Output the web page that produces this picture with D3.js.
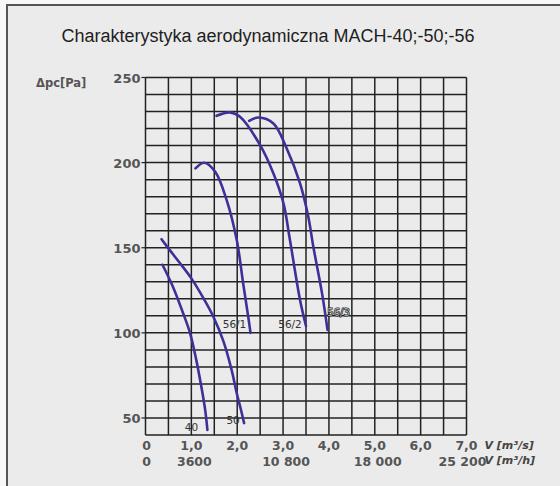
<!DOCTYPE html>
<html>
<head>
<meta charset="utf-8">
<script src="https://cdn.jsdelivr.net/npm/d3@7"></script>
<style>
  html, body { margin: 0; padding: 0; background: #f7f7f7; }
  svg { display: block; }
</style>
</head>
<body>
<svg id="chart" width="560" height="486"></svg>
<script>
// fan curves, flow V [m3/s] against pressure dpc [Pa]
const curveNames = ['40', '50', '56/1', '56/2', '56/3'];
const curve40 = [[0.37, 140], [0.6, 127], [0.8, 113], [0.97, 100], [1.1, 85], [1.22, 68], [1.3, 55], [1.35, 43]];
const curve50 = [[0.35, 155], [0.53, 148.6], [0.75, 141], [1.0, 132], [1.25, 121], [1.48, 109.5], [1.7, 95], [1.88, 78], [1.99, 64.5], [2.08, 55], [2.15, 47]];
const curve56_1 = [[1.09, 196.6], [1.28, 199.9], [1.52, 194.6], [1.77, 178], [1.99, 154.5], [2.13, 129], [2.24, 109.5], [2.29, 100]];
const curve56_2 = [[1.55, 227.5], [1.84, 229.5], [2.06, 226.9], [2.5, 210.3], [2.79, 193.6], [3.01, 176], [3.15, 154.5], [3.37, 119.3], [3.5, 104]];
const curve56_3 = [[2.26, 224.5], [2.46, 226.5], [2.79, 223], [3.08, 208.3], [3.37, 187.8], [3.55, 168.2], [3.66, 150.6], [3.85, 123.2], [3.97, 101.7]];
const curves = [curve40, curve50, curve56_1, curve56_2, curve56_3];

const xTicks = [0, 1, 2, 3, 4, 5, 6, 7];
const xTickLabels = ['0', '1,0', '2,0', '3,0', '4,0', '5,0', '6,0', '7,0'];
const hTicks = [0, 1, 3, 5, 7];
const hTickLabels = ['0', '3600', '10 800', '18 000', '25 200'];
const yTicks = [50, 100, 150, 200, 250];

const svg = d3.select('#chart');
const W = 560, H = 486;
const margin = { top: 77.5, right: 93.5, bottom: 51, left: 145.5 };

// panel
svg.append('rect').attr('x', 6).attr('y', 4).attr('width', W - 6).attr('height', H - 4).attr('fill', '#ebebeb');
svg.append('path').attr('d', `M7,${H} V5 H${W}`).attr('fill', 'none').attr('stroke', '#555').attr('stroke-width', 2);

svg.append('text')
  .attr('x', 268).attr('y', 42)
  .attr('text-anchor', 'middle')
  .attr('font-family', 'Liberation Sans, Arial, sans-serif')
  .attr('font-size', 18)
  .attr('fill', '#1e1e1e')
  .text('Charakterystyka aerodynamiczna MACH-40;-50;-56');

const x = d3.scaleLinear().domain([0, 7]).range([margin.left, W - margin.right]);
const y = d3.scaleLinear().domain([40, 250]).range([H - margin.bottom, margin.top]);

// grid
const g = svg.append('g');
const gridColor = '#222';
g.selectAll('.vg').data(d3.range(0, 7.01, 0.5)).enter().append('line')
  .attr('x1', d => x(d)).attr('x2', d => x(d))
  .attr('y1', y(40)).attr('y2', y(250))
  .attr('stroke', gridColor).attr('stroke-width', 1.5);
g.selectAll('.hg').data(d3.range(40, 250.1, 10)).enter().append('line')
  .attr('x1', x(0)).attr('x2', x(7))
  .attr('y1', d => y(d)).attr('y2', d => y(d))
  .attr('stroke', gridColor).attr('stroke-width', 1.5);
g.selectAll('.yt').data(yTicks).enter().append('line')
  .attr('x1', x(0) - 4).attr('x2', x(0))
  .attr('y1', d => y(d)).attr('y2', d => y(d))
  .attr('stroke', gridColor).attr('stroke-width', 1.2);

// y labels
const labelFont = 'DejaVu Sans, Verdana, sans-serif';
const labelColor = '#555';
svg.selectAll('.yl').data(yTicks).enter().append('text')
  .attr('x', x(0) - 5).attr('y', d => y(d) + 5)
  .attr('text-anchor', 'end')
  .attr('font-family', labelFont).attr('font-weight', 'bold').attr('font-size', 13)
  .attr('fill', labelColor)
  .text(d => d);
svg.append('text')
  .attr('x', 36).attr('y', 87)
  .attr('font-family', labelFont).attr('font-weight', 'bold').attr('font-size', 11.5)
  .attr('fill', labelColor)
  .text('Δpc[Pa]');

// x labels
svg.selectAll('.xl').data(xTicks).enter().append('text')
  .attr('x', (d, i) => x(d) + (i === 0 ? 1 : 0)).attr('y', 449.5)
  .attr('text-anchor', 'middle')
  .attr('font-family', labelFont).attr('font-weight', 'bold').attr('font-size', 12.5)
  .attr('fill', labelColor)
  .text((d, i) => xTickLabels[i]);
svg.selectAll('.hl').data(hTicks).enter().append('text')
  .attr('x', (d, i) => x(d) + (i === 0 ? 1 : i === hTicks.length - 1 ? -4 : 3)).attr('y', 466)
  .attr('text-anchor', 'middle')
  .attr('font-family', labelFont).attr('font-weight', 'bold').attr('font-size', 12.5)
  .attr('fill', labelColor)
  .text((d, i) => hTickLabels[i]);

const unit = (ty, txt) => svg.append('text')
  .attr('x', x(7) + 18).attr('y', ty)
  .attr('font-family', labelFont).attr('font-style', 'italic').attr('font-weight', 'bold').attr('font-size', 11)
  .attr('fill', '#444')
  .text(txt);
unit(449, 'V [m³/s]');
unit(464, 'V [m³/h]');

// curves
const line = d3.line().x(d => x(d[0])).y(d => y(d[1])).curve(d3.curveCatmullRom.alpha(0.5));
svg.selectAll('.curve').data(curves).enter().append('path')
  .attr('d', line)
  .attr('fill', 'none')
  .attr('stroke', '#3d3198')
  .attr('stroke-width', 2.6)
  .attr('stroke-linecap', 'round');

// curve labels, placed relative to each curve's last point
const labelOffsets = [[-16, -3], [-11, -3], [-16, -9], [-16, -2], [11, -18]];
svg.selectAll('.cl').data(curves).enter().append('text')
  .attr('x', (d, i) => x(d[d.length - 1][0]) + labelOffsets[i][0])
  .attr('y', (d, i) => y(d[d.length - 1][1]) + labelOffsets[i][1] + 4)
  .attr('text-anchor', 'middle')
  .attr('font-family', labelFont).attr('font-size', 10.5)
  .attr('fill', '#333')
  .attr('stroke', (d, i) => i === 4 ? '#222' : 'none')
  .attr('stroke-width', 1.2)
  .attr('paint-order', 'stroke')
  .text((d, i) => curveNames[i])
  .filter((d, i) => i === 4).attr('fill', '#aaa').attr('font-size', 10);
</script>
</body>
</html>
